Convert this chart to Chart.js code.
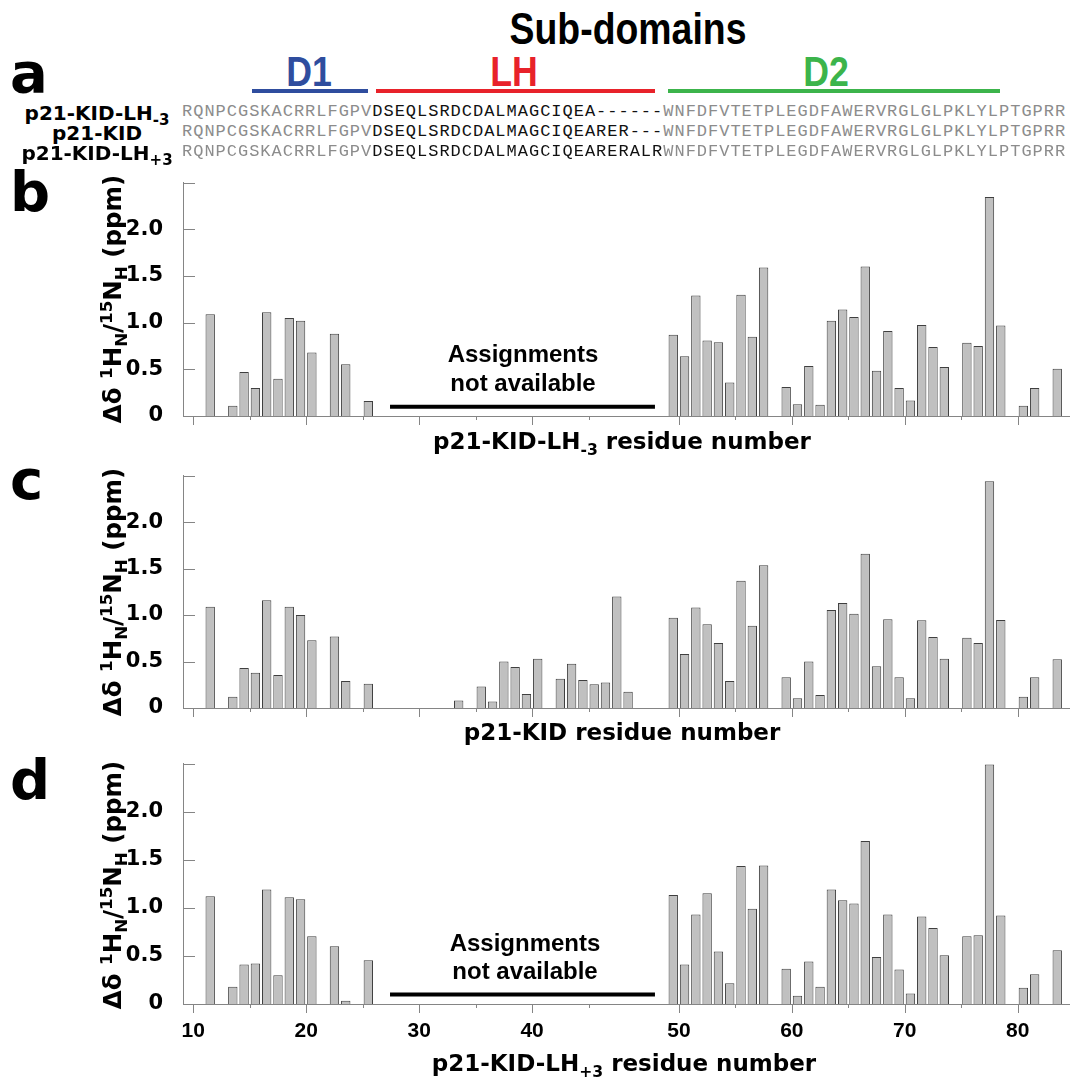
<!DOCTYPE html>
<html>
<head>
<meta charset="utf-8">
<script src="https://cdn.jsdelivr.net/npm/chart.js@4.4.1/dist/chart.umd.min.js"></script>
<style>
  html, body { margin: 0; padding: 0; background: #fff; }
  #fig { position: relative; width: 1070px; height: 1077px; overflow: hidden; color: #000; }
  .t { position: absolute; white-space: nowrap; line-height: 1; font-weight: bold; }
  .wide { font-family: "DejaVu Sans", sans-serif; }
  .sans { font-family: "Liberation Sans", Arial, sans-serif; }
  .letter { font-family: "DejaVu Sans", sans-serif; font-size: 56px; left: 10px; }
  .seq { position: absolute; left: 182px; white-space: nowrap; line-height: 1; font-family: "Liberation Mono", "Courier New", monospace; font-size: 17px; letter-spacing: 0.99px; color: #8c8c8c; }
  .seq .lh { color: #111; }
  .bar { position: absolute; height: 4px; }
  canvas { position: absolute; left: 0; display: block; }
  .ytitle { position: absolute; left: 113px; white-space: nowrap; line-height: 1; font-family: "DejaVu Sans", sans-serif; font-weight: bold; font-size: 24.5px; transform: translate(-50%, -50%) rotate(-90deg); }
  .ytitle sup, .ytitle sub, .xt sub { font-size: 0.68em; line-height: 0; }
  .xt { font-family: "DejaVu Sans", sans-serif; font-size: 23px; transform: translateX(-50%); }
  .na { font-family: "Liberation Sans", Arial, sans-serif; font-size: 24px; transform: translateX(-50%); text-align: center; }
</style>
</head>
<body>
<div id="fig">
  <canvas id="chartB" width="1070" height="300" style="top:150px"></canvas>
  <canvas id="chartC" width="1070" height="300" style="top:443px"></canvas>
  <canvas id="chartD" width="1070" height="346" style="top:731px"></canvas>

  <!-- panel a: sub-domain header and alignment -->
  <div class="t sans" style="left:628px;top:7px;font-size:44px;transform:translateX(-50%) scaleX(0.85)">Sub-domains</div>
  <div class="t letter" style="top:45px">a</div>
  <div class="t sans" style="left:309px;top:51px;font-size:42px;color:#2f4d9e;transform:translateX(-50%) scaleX(0.85)">D1</div>
  <div class="t sans" style="left:514px;top:51px;font-size:42px;color:#e8222a;transform:translateX(-50%) scaleX(0.85)">LH</div>
  <div class="t sans" style="left:826px;top:51px;font-size:42px;color:#3cb44b;transform:translateX(-50%) scaleX(0.85)">D2</div>
  <div class="bar" style="left:252px;width:116px;top:89px;background:#2f4d9e"></div>
  <div class="bar" style="left:376px;width:279px;top:89px;background:#e8222a"></div>
  <div class="bar" style="left:668px;width:332px;top:89px;background:#3cb44b"></div>
  <div id="rows"></div>

  <div class="t letter" style="top:164px">b</div>
  <div class="t letter" style="top:452px">c</div>
  <div class="t letter" style="top:752px">d</div>

  <div class="ytitle" style="top:299px">Δδ <sup>1</sup>H<sub>N</sub>/<sup>15</sup>N<sub>H</sub> (ppm)</div>
  <div class="ytitle" style="top:592px">Δδ <sup>1</sup>H<sub>N</sub>/<sup>15</sup>N<sub>H</sub> (ppm)</div>
  <div class="ytitle" style="top:885px">Δδ <sup>1</sup>H<sub>N</sub>/<sup>15</sup>N<sub>H</sub> (ppm)</div>

  <div class="t xt" style="left:622px;top:430px">p21-KID-LH<sub>-3</sub> residue number</div>
  <div style="position:absolute;left:0;top:700px;width:1070px;height:45px;overflow:hidden">
    <div class="t xt" style="left:622px;top:21px">p21-KID residue number</div>
  </div>
  <div class="t xt" style="left:624px;top:1052px">p21-KID-LH<sub>+3</sub> residue number</div>

  <div class="t na" style="left:523px;top:342px">Assignments</div>
  <div class="t na" style="left:523px;top:371px">not available</div>
  <div class="t na" style="left:525px;top:931px">Assignments</div>
  <div class="t na" style="left:525px;top:959px">not available</div>
</div>

<script>
// ---- data (residue numbers as on the axis, chemical shift changes in ppm) ----
const residuesB = [11, 13, 14, 15, 16, 17, 18, 19, 20, 22, 23, 25,
  49, 50, 51, 52, 53, 54, 55, 56, 57, 59, 60, 61, 62, 63, 64, 65, 66, 67, 68, 69, 70,
  71, 72, 73, 75, 76, 77, 78, 80, 81, 83];
const shiftsB = [1.09, 0.11, 0.47, 0.30, 1.11, 0.40, 1.05, 1.02, 0.68, 0.88, 0.555, 0.16,
  0.87, 0.64, 1.29, 0.81, 0.79, 0.36, 1.30, 0.85, 1.59, 0.31, 0.125, 0.535, 0.12, 1.02, 1.14, 1.06, 1.60, 0.485, 0.91, 0.30, 0.165,
  0.975, 0.74, 0.525, 0.785, 0.75, 2.345, 0.97, 0.11, 0.30, 0.505];

const residuesC = [11, 13, 14, 15, 16, 17, 18, 19, 20, 22, 23, 25,
  33, 35, 36, 37, 38, 39, 40, 42, 43, 44, 45, 46, 47, 48,
  49, 50, 51, 52, 53, 54, 55, 56, 57, 59, 60, 61, 62, 63, 64, 65, 66, 67, 68, 69, 70,
  71, 72, 73, 75, 76, 77, 78, 80, 81, 83];
const shiftsC = [1.09, 0.12, 0.43, 0.38, 1.16, 0.355, 1.09, 1.00, 0.73, 0.77, 0.29, 0.26,
  0.08, 0.23, 0.07, 0.50, 0.44, 0.15, 0.53, 0.315, 0.475, 0.30, 0.255, 0.275, 1.20, 0.175,
  0.97, 0.58, 1.08, 0.90, 0.70, 0.29, 1.37, 0.885, 1.535, 0.33, 0.105, 0.50, 0.14, 1.055, 1.13, 1.015, 1.66, 0.45, 0.955, 0.33, 0.105,
  0.945, 0.765, 0.53, 0.757, 0.70, 2.44, 0.947, 0.12, 0.33, 0.525];

const residuesD = [11, 13, 14, 15, 16, 17, 18, 19, 20, 22, 23, 25,
  49, 50, 51, 52, 53, 54, 55, 56, 57, 59, 60, 61, 62, 63, 64, 65, 66, 67, 68, 69, 70,
  71, 72, 73, 75, 76, 77, 78, 80, 81, 83];
const shiftsD = [1.12, 0.18, 0.41, 0.42, 1.19, 0.30, 1.11, 1.09, 0.705, 0.60, 0.033, 0.456,
  1.133, 0.41, 0.93, 1.153, 0.545, 0.217, 1.435, 0.99, 1.44, 0.367, 0.085, 0.443, 0.18, 1.19, 1.08, 1.044, 1.695, 0.49, 0.932, 0.36, 0.108,
  0.91, 0.79, 0.508, 0.705, 0.715, 2.49, 0.92, 0.17, 0.31, 0.56];

const xTickLabels = [10, 20, 30, 40, 50, 60, 70, 80];
const xMinorTicks = [15, 25, 35, 45, 55, 65, 75];
const yTickValues = [0.5, 1.0, 1.5, 2.0, 2.5];

// alignment (panel a)
const seqD1 = 'RQNPCGSKACRRLFGPV';
const seqLH = ['DSEQLSRDCDALMAGCIQEA------', 'DSEQLSRDCDALMAGCIQEARER---', 'DSEQLSRDCDALMAGCIQEARERALR'];
const seqD2 = 'WNFDFVTETPLEGDFAWERVRGLGLPKLYLPTGPRR';
const rowNames = [['p21-KID-LH', '-3'], ['p21-KID', ''], ['p21-KID-LH', '+3']];

// residue -> alignment column (3 gap columns follow residue 48)
const firstResidue = 9, gapAfter = 48, gapCols = 3;
const colOf = r => r - firstResidue + (r > gapAfter ? gapCols : 0);

const AXIS_COLOR = '#858585';
const xMin = 0.09, xMax = 78.63;

// ---- alignment rows ----
const rowsEl = document.getElementById('rows');
seqLH.forEach((lh, i) => {
  const base = 116 + i * 20;
  const seq = document.createElement('div');
  seq.className = 'seq';
  seq.style.top = (base - 13) + 'px';
  seq.innerHTML = seqD1 + '<span class="lh">' + lh + '</span>' + seqD2;
  rowsEl.appendChild(seq);

  const name = document.createElement('div');
  name.className = 't wide';
  name.style.cssText = 'left:97px;font-size:20px;transform:translateX(-50%);top:' + (base + 4 - 17) + 'px';
  name.innerHTML = rowNames[i][0] + (rowNames[i][1] ? '<sub style="font-size:0.75em;line-height:0">' + rowNames[i][1] + '</sub>' : '');
  rowsEl.appendChild(name);
});

// ---- tick marks and the "not available" bar ----
const axisMarks = {
  id: 'axisMarks',
  afterDatasetsDraw(chart, args, opts) {
    const { ctx, chartArea: area, scales: { x, y } } = chart;
    ctx.save();
    ctx.strokeStyle = AXIS_COLOR;
    ctx.lineWidth = 1;
    ctx.beginPath();
    yTickValues.forEach(v => {
      const py = Math.round(y.getPixelForValue(v)) + 0.5;
      ctx.moveTo(area.left, py);
      ctx.lineTo(area.left + 12, py);
    });
    xTickLabels.forEach(r => {
      const px = Math.round(x.getPixelForValue(colOf(r))) + 0.5;
      ctx.moveTo(px, area.bottom);
      ctx.lineTo(px, area.bottom + 9);
    });
    xMinorTicks.forEach(r => {
      const px = Math.round(x.getPixelForValue(colOf(r))) + 0.5;
      ctx.moveTo(px, area.bottom);
      ctx.lineTo(px, area.bottom + 4);
    });
    ctx.stroke();
    if (opts.gap) {
      const py = y.getPixelForValue(0.1);
      ctx.strokeStyle = '#000';
      ctx.lineWidth = 4;
      ctx.beginPath();
      ctx.moveTo(x.getPixelForValue(18.42), py);
      ctx.lineTo(x.getPixelForValue(41.88), py);
      ctx.stroke();
    }
    ctx.restore();
  }
};

function makePanel(id, residues, shifts, xHeight, showLabels, gap) {
  new Chart(document.getElementById(id), {
    type: 'bar',
    data: {
      datasets: [{
        data: residues.map((r, i) => ({ x: colOf(r) + 0.5, y: shifts[i] })),
        backgroundColor: '#c0c0c0',
        borderColor: '#3f3f3f',
        borderWidth: 1,
        borderSkipped: 'start',
        categoryPercentage: 1,
        barPercentage: 0.83
      }]
    },
    options: {
      responsive: false,
      animation: false,
      devicePixelRatio: 1,
      layout: { padding: { top: 20, left: 0, right: 0, bottom: 0 } },
      plugins: { legend: { display: false }, tooltip: { enabled: false }, axisMarks: { gap: gap } },
      scales: {
        x: {
          type: 'linear',
          min: xMin,
          max: xMax,
          offset: false,
          grid: { display: false, drawTicks: false },
          border: { display: true, color: AXIS_COLOR, width: 1 },
          afterBuildTicks: s => { s.ticks = xTickLabels.map(l => ({ value: colOf(l) })); },
          afterFit: s => { s.height = xHeight; },
          ticks: {
            display: showLabels,
            autoSkip: false,
            maxRotation: 0,
            padding: 15,
            color: '#000',
            font: { family: '"Liberation Sans", Arial, sans-serif', size: 21, weight: 'bold', lineHeight: 1.2 },
            callback: (v, i) => xTickLabels[i]
          }
        },
        y: {
          min: 0,
          max: 2.5,
          grid: { display: false, drawTicks: false },
          border: { display: true, color: AXIS_COLOR, width: 1 },
          afterFit: s => { s.width = 183; },
          ticks: {
            stepSize: 0.5,
            padding: 20,
            color: '#000',
            font: { family: '"DejaVu Sans", sans-serif', size: 21, weight: 'bold', lineHeight: 1.2 },
            callback: v => (v === 0 ? '0' : (v >= 2.5 ? '' : v.toFixed(1)))
          }
        }
      }
    },
    plugins: [axisMarks]
  });
}

makePanel('chartB', residuesB, shiftsB, 34, false, true);
makePanel('chartC', residuesC, shiftsC, 35, false, false);
makePanel('chartD', residuesD, shiftsD, 73, true, true);
</script>
</body>
</html>
